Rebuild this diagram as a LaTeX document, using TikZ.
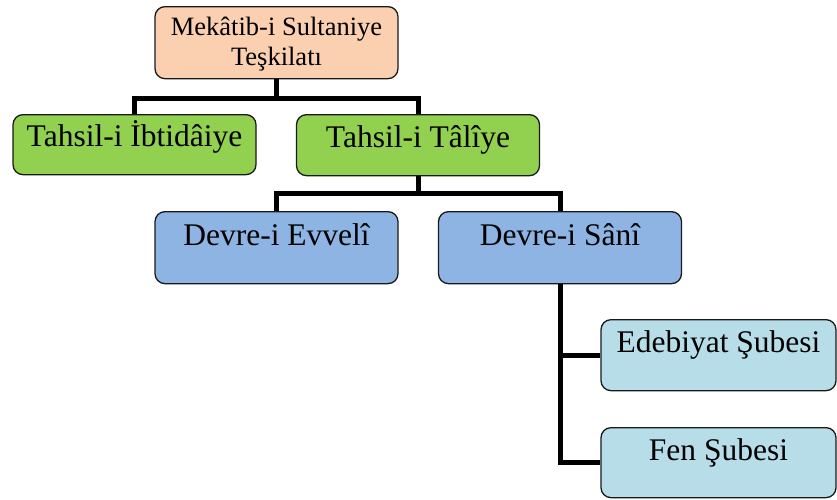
\documentclass[tikz,border=0pt]{standalone}
\usepackage{fontspec}
\setmainfont{Liberation Serif}
\usetikzlibrary{calc}

\definecolor{peach}{HTML}{FAD0B0}
\definecolor{leaf}{HTML}{92D050}
\definecolor{sky}{HTML}{8EB4E3}
\definecolor{aqua}{HTML}{B7DEE8}

\begin{document}
\begin{tikzpicture}[x=1pt, y=-1pt,
    box/.style={draw=black!90, line width=1.3pt, rounded corners=10pt,
        inner sep=0pt, anchor=north, minimum width=243pt,
        font=\fontsize{31.5}{36}\selectfont},
    link/.style={line width=5pt}]
    % --- Frame ---
    \useasboundingbox (0,0) rectangle (837,499);

    % --- Top ---
    \node[box, fill=peach, align=center, text height=59pt, text depth=13pt,
        font=\fontsize{26.5}{30}\selectfont] (top) at (276.5,6)
        {Mekâtib-i Sultaniye\\Teşkilatı};

    % --- Tahsil ---
    \node[box, fill=leaf, text height=32pt, text depth=28pt] (ibt) at (134.5,114) {Tahsil-i İbtidâiye};
    \node[box, fill=leaf, text height=33pt, text depth=28pt] (tal) at (418,114) {Tahsil-i Tâlîye};

    % --- Devre ---
    \node[box, fill=sky, text height=34pt, text depth=38pt] (dev1) at (276.5,211) {Devre-i Evvelî};
    \node[box, fill=sky, text height=34pt, text depth=38pt] (dev2) at (560,211) {Devre-i Sânî};

    % --- Sube ---
    \node[box, fill=aqua, minimum width=235pt, text height=33pt, text depth=38pt] (edb) at (718.5,319) {Edebiyat Şubesi};
    \node[box, fill=aqua, minimum width=235pt, text height=33pt, text depth=37pt] (fen) at (718.5,427) {Fen Şubesi};

    % --- Links ---
    \draw[link] (top.south) -- ++(0,19) coordinate (bus1);
    \draw[link] (ibt.north) |- (bus1) -| (tal.north);
    \draw[link] (tal.south) -- ++(0,17) coordinate (bus2);
    \draw[link] (dev1.north) |- (bus2) -| (dev2.north);
    \draw[link] (dev2.south) |- (edb.west);
    \draw[link] (dev2.south) |- (fen.west);
\end{tikzpicture}
\end{document}
